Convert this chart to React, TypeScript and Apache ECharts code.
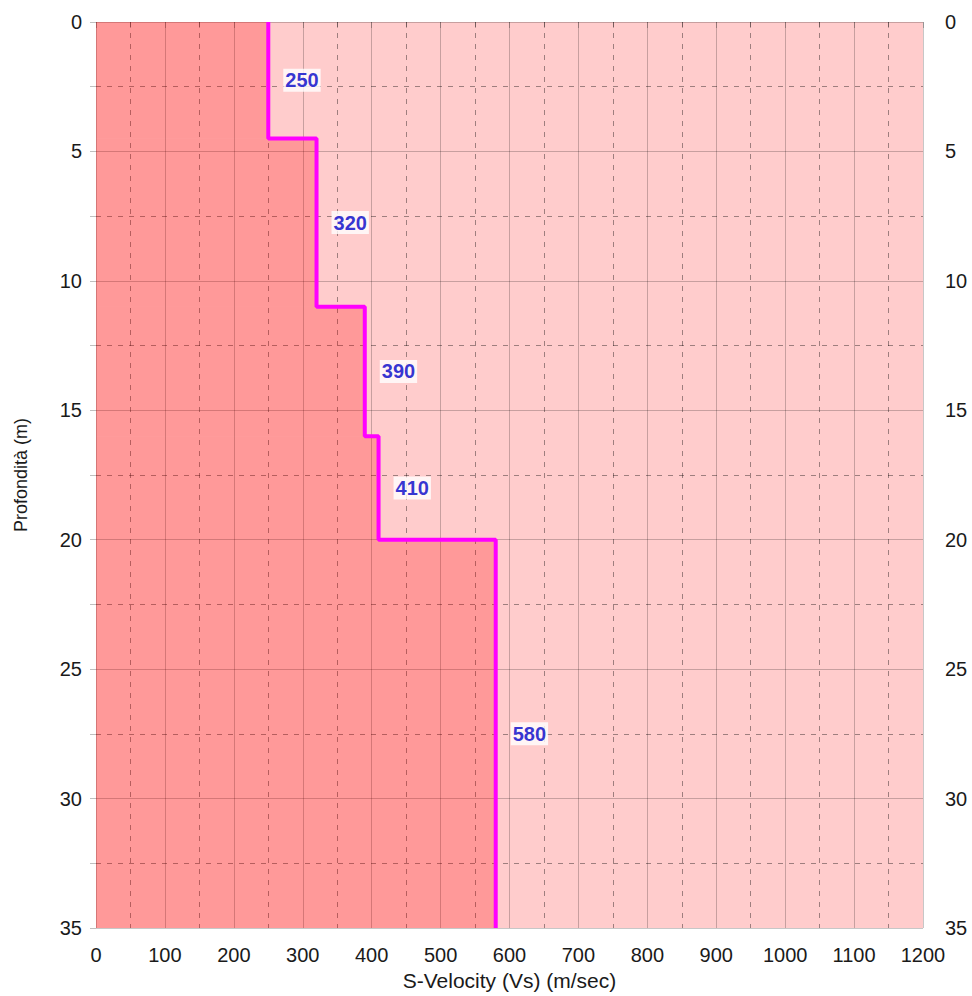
import React, { useEffect, useRef } from "react";
import * as echarts from "echarts";

const velocities = [250, 320, 390, 410, 580];
const layerTops = [0, 4.5, 11, 16, 20];
const layerBottoms = [4.5, 11, 16, 20, 35];
const xTicks = { min: 0, max: 1200, interval: 100 };
const yTicks = { min: 0, max: 35, interval: 5 };

const FONT = "Liberation Sans, Arial, sans-serif";

export default function App() {
  const ref = useRef<HTMLDivElement>(null);
  useEffect(() => {
    if (!ref.current) return;
    const chart = echarts.init(ref.current, null, { renderer: "svg" });

    const stepLine: number[][] = [];
    velocities.forEach((v, i) => {
      stepLine.push([v, layerTops[i]]);
      stepLine.push([v, layerBottoms[i]]);
    });
    const fillData = velocities.map((v, i) => [v, layerTops[i], layerBottoms[i]]);
    const labelData = velocities.map((v, i) => [v, (layerTops[i] + layerBottoms[i]) / 2]);

    const axisLabelStyle = {
      color: "#1a1a1a",
      fontSize: 20,
      fontFamily: FONT,
      formatter: (v: number) => String(v),
    };
    const splitLine = { show: true, lineStyle: { color: "rgba(0,0,0,0.22)", width: 1 } };
    const minorSplitLine = {
      show: true,
      lineStyle: { color: "rgba(0,0,0,0.38)", width: 1, type: [5, 6] as any },
    };
    const axisTick = { show: true, length: 6, lineStyle: { color: "rgba(0,0,0,0.25)" } };
    const minorTick = { show: true, splitNumber: 2, length: 6, lineStyle: { color: "rgba(0,0,0,0.25)" } };

    chart.setOption({
      animation: false,
      grid: {
        left: 96,
        right: 49,
        top: 22,
        bottom: 66,
        show: true,
        backgroundColor: "#FFCCCC",
        borderWidth: 0,
      },
      xAxis: {
        type: "value",
        min: xTicks.min,
        max: xTicks.max,
        interval: xTicks.interval,
        name: "S-Velocity (Vs) (m/sec)",
        nameLocation: "middle",
        nameGap: 42,
        nameTextStyle: { color: "#1a1a1a", fontSize: 21, fontFamily: FONT },
        axisLine: { show: false },
        axisTick,
        minorTick,
        splitLine,
        minorSplitLine,
        axisLabel: { ...axisLabelStyle, margin: 17 },
      },
      yAxis: [
        {
          type: "value",
          inverse: true,
          min: yTicks.min,
          max: yTicks.max,
          interval: yTicks.interval,
          name: "Profondità (m)",
          nameLocation: "middle",
          nameGap: 66,
          nameTextStyle: { color: "#1a1a1a", fontSize: 18, fontFamily: FONT },
          axisLine: { show: false },
          axisTick,
          minorTick,
          splitLine,
          minorSplitLine,
          axisLabel: { ...axisLabelStyle, margin: 14 },
        },
        {
          type: "value",
          inverse: true,
          position: "right",
          min: yTicks.min,
          max: yTicks.max,
          interval: yTicks.interval,
          axisLine: { show: false },
          axisTick: { show: false },
          splitLine: { show: false },
          axisLabel: { ...axisLabelStyle, margin: 22 },
        },
      ],
      series: [
        {
          type: "custom",
          data: fillData,
          z: 1,
          renderItem: (params: any, api: any) => {
            const p0 = api.coord([0, api.value(1)]);
            const p1 = api.coord([api.value(0), api.value(2)]);
            return {
              type: "rect",
              shape: { x: p0[0], y: p0[1], width: p1[0] - p0[0], height: p1[1] - p0[1] },
              style: { fill: "rgba(255,0,0,0.25)" },
            };
          },
        },
        {
          type: "line",
          data: stepLine,
          symbol: "none",
          z: 3,
          lineStyle: { color: "#FF00FF", width: 4 },
        },
        {
          type: "scatter",
          data: labelData,
          symbolSize: 0,
          z: 4,
          label: {
            show: true,
            position: "right",
            distance: 15,
            formatter: (p: any) => String(p.value[0]),
            color: "#0000C8",
            fontWeight: "bold",
            fontSize: 20,
            fontFamily: FONT,
            backgroundColor: "#FFFFFF",
            padding: [2, 2, 1, 2],
          },
        },
      ],
    });
    return () => chart.dispose();
  }, []);
  return (
    <div
      ref={ref}
      style={{ position: "fixed", left: 0, top: 0, width: 972, height: 996, background: "#fff" }}
    />
  );
}
